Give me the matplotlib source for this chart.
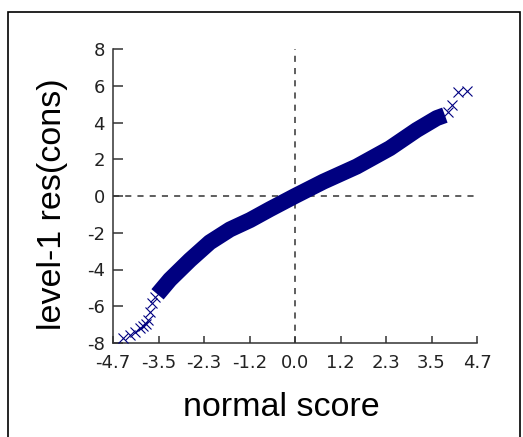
import matplotlib
matplotlib.use('Agg')
import matplotlib.pyplot as plt
from matplotlib.patches import Rectangle
from matplotlib.ticker import FixedLocator
import numpy as np

# dense part of the residual curve (normal score, residual)
band_x = [-3.55, -3.23, -2.71, -2.20, -1.68, -1.16, -0.65, 0.00, 0.73, 1.59, 2.45, 3.14, 3.66, 3.87]
band_y = [-5.35, -4.55, -3.48, -2.52, -1.82, -1.31, -0.72, 0.00, 0.78, 1.60, 2.60, 3.59, 4.24, 4.40]

# sparse tail points
low_x = [-4.43, -4.25, -4.13, -4.00, -3.92, -3.85, -3.79, -3.74, -3.70, -3.62]
low_y = [-7.75, -7.55, -7.38, -7.20, -7.07, -6.95, -6.75, -6.30, -5.84, -5.48]
high_x = [3.95, 4.05, 4.21, 4.45]
high_y = [4.55, 4.95, 5.66, 5.71]

x_ticklabels = ['-4.7', '-3.5', '-2.3', '-1.2', '0.0', '1.2', '2.3', '3.5', '4.7']
y_ticks = [-8, -6, -4, -2, 0, 2, 4, 6, 8]

navy = '#000080'
axis_grey = '#333333'

fig = plt.figure(figsize=(5.23, 4.37), dpi=100)
ax = fig.add_axes([113 / 523, 94 / 437, 364 / 523, 294 / 437])

ax.plot(band_x, band_y, color=navy, linewidth=11.5, solid_capstyle='butt',
        solid_joinstyle='round', zorder=3)
ax.plot(low_x + high_x, low_y + high_y, marker='x', linestyle='None',
        markersize=7, markeredgewidth=0.8, color=navy, zorder=3)

ax.axhline(0, color=axis_grey, linewidth=1.1, linestyle=(0, (4, 4)), zorder=1)
ax.axvline(0, color=axis_grey, linewidth=1.1, linestyle=(0, (4, 4)), zorder=1)

ax.set_xlim(-4.7, 4.7)
ax.set_ylim(-8, 8)
x_pos = np.linspace(-4.7, 4.7, len(x_ticklabels))
ax.xaxis.set_major_locator(FixedLocator(x_pos))
ax.xaxis.set_minor_locator(FixedLocator(x_pos))
ax.set_xticklabels(x_ticklabels)
ax.yaxis.set_major_locator(FixedLocator(y_ticks))
ax.yaxis.set_minor_locator(FixedLocator(y_ticks))
ax.set_yticklabels([str(v) for v in y_ticks])

for side in ['top', 'right']:
    ax.spines[side].set_visible(False)
for side in ['left', 'bottom']:
    ax.spines[side].set_color(axis_grey)
    ax.spines[side].set_linewidth(1.1)

tick_font = ['Liberation Sans Narrow', 'DejaVu Sans']
ax.tick_params(axis='x', which='major', direction='in', length=5, width=1.1,
               color=axis_grey, pad=8)
ax.tick_params(axis='x', which='minor', direction='out', length=2.5, width=1.1,
               color=axis_grey)
ax.tick_params(axis='y', which='major', direction='in', length=7, width=1.1,
               color=axis_grey, pad=6)
ax.tick_params(axis='y', which='minor', direction='out', length=3.5, width=1.1,
               color=axis_grey)
for lab in ax.get_xticklabels() + ax.get_yticklabels():
    lab.set_fontfamily(tick_font)
    lab.set_fontsize(13)
    lab.set_color('#222222')

fig.text(281 / 523, 1 - 407 / 437, 'normal score', ha='center', va='center',
         fontsize=24.5, family=['Liberation Sans', 'DejaVu Sans'])
fig.text(53 / 523, 1 - 204 / 437, 'level-1 res(cons)', ha='center', va='center',
         rotation=90, fontsize=24.5, family=['Liberation Sans', 'DejaVu Sans'])

fig.patches.append(Rectangle((8 / 523, -0.05), 512 / 523, 1.05 - 12 / 437,
                             transform=fig.transFigure, fill=False,
                             edgecolor='black', linewidth=1.2))

fig.savefig('out.png', dpi=100)
